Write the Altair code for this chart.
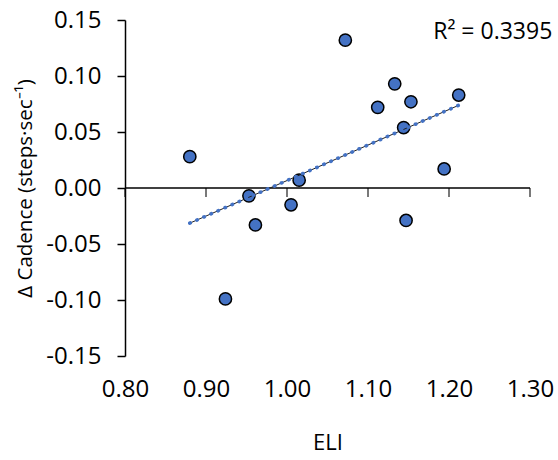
import altair as alt
import pandas as pd

# Data
eli = [0.880, 0.953, 0.961, 0.924, 1.015, 1.005, 1.072, 1.133, 1.112, 1.153, 1.144, 1.212, 1.194, 1.147]
d_cadence = [0.028, -0.007, -0.033, -0.099, 0.007, -0.015, 0.132, 0.093, 0.072, 0.077, 0.054, 0.083, 0.017, -0.029]
x_ticks = [0.80, 0.90, 1.00, 1.10, 1.20, 1.30]
y_ticks = [-0.15, -0.10, -0.05, 0.00, 0.05, 0.10, 0.15]
r2_label = ["R² = 0.3395"]
r2_x = [1.254]
r2_y = [0.139]

FONT = "Open Sans"
FS = 24
BLUE = "#4472C4"
X_TITLE = "ELI"
Y_TITLE = "Δ Cadence (steps·sec⁻¹)"

df = pd.DataFrame({"ELI": eli, "dC": d_cadence})
tick_df = pd.DataFrame({"ELI": x_ticks, "dC": [0.0] * len(x_ticks)})
zero_df = pd.DataFrame({"dC": [0.0]})
r2_df = pd.DataFrame({"ELI": r2_x, "dC": r2_y, "t": r2_label})

xscale = alt.Scale(domain=[0.8, 1.3], nice=False, zero=False)
yscale = alt.Scale(domain=[-0.15, 0.15], nice=False, zero=False)

x_axis = alt.Axis(values=x_ticks, format=".2f", ticks=False, tickSize=0, domain=False,
                  labelFlush=False, labelOverlap=False, labelBound=False,
                  labelPadding=21, titlePadding=31, grid=False, titleFontSize=22)
y_axis = alt.Axis(values=y_ticks, labelExpr="replace(format(datum.value, '.2f'), '\u2212', '-')",
                  labelFlush=False, labelOverlap=False, labelBound=False,
                  tickSize=8, tickWidth=1.5, tickColor="black", domainColor="black",
                  domainWidth=1.5, labelPadding=16, titlePadding=10, grid=False, titleFontSize=20.5)

X = alt.X("ELI:Q", scale=xscale, axis=x_axis, title=X_TITLE)
Y = alt.Y("dC:Q", scale=yscale, axis=y_axis, title=Y_TITLE)

points = alt.Chart(df).mark_circle(size=150, color=BLUE, stroke="black", strokeWidth=1.5, opacity=1).encode(
    x=X, y=Y
)

zero_line = alt.Chart(zero_df).mark_rule(color="black", strokeWidth=1.5).encode(y=Y)

xticks = alt.Chart(tick_df).mark_tick(orient="vertical", size=9, thickness=1.5, color="black", yOffset=4.5).encode(
    x=X, y=Y
)

trend_base = alt.Chart(df).transform_regression("ELI", "dC", method="linear")
trend_black = trend_base.mark_line(color="#1f1f1f", strokeWidth=1).encode(x=X, y=Y)
trend_dots = trend_base.mark_line(color=BLUE, strokeWidth=3.6, strokeDash=[0.5, 7.2], strokeCap="round").encode(
    x=X, y=Y
)

r2_text = alt.Chart(r2_df).mark_text(font=FONT, fontSize=23, color="black", align="center", baseline="middle").encode(
    x=X, y=Y, text="t:N"
)

chart = alt.layer(points, zero_line, xticks, trend_black, trend_dots, r2_text).properties(
    width=405,
    height=336,
    autosize=alt.AutoSizeParams(type="none"),
    padding={"left": 125, "top": 20, "right": 28, "bottom": 104},
    background="white",
).configure_axis(
    labelFont=FONT, titleFont=FONT, labelFontSize=FS,
    labelColor="black", titleColor="black", titleFontWeight="normal",
).configure_view(stroke=None)

chart.save("out.html", embed_options={"renderer": "svg", "actions": False})
